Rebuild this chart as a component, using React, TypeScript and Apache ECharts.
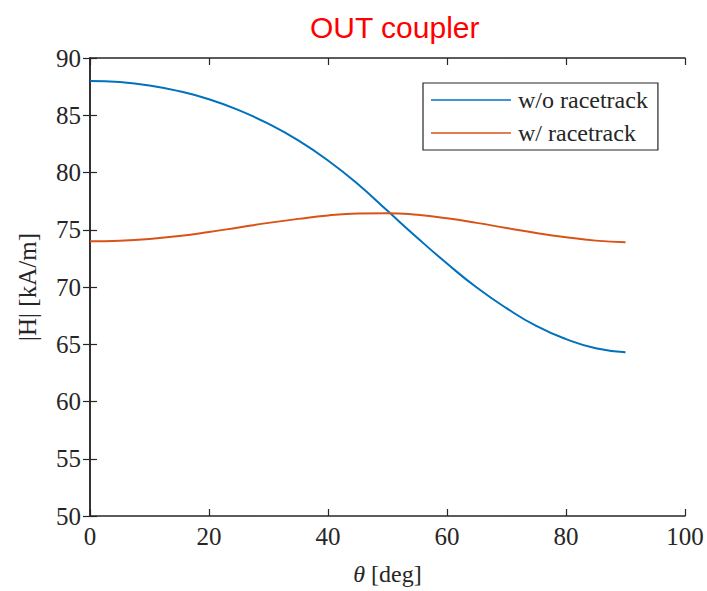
import React, { useEffect, useRef } from "react";
import * as echarts from "echarts";

const thetaDeg = [0, 5, 10, 15, 20, 25, 30, 35, 40, 45, 50, 55, 60, 65, 70, 75, 80, 85, 90];
const woRacetrack = [88.0, 87.9, 87.6, 87.1, 86.4, 85.45, 84.25, 82.8, 81.05, 79.0, 76.65, 74.3, 72.05, 69.95, 68.15, 66.6, 65.45, 64.65, 64.3];
const wRacetrack = [74.0, 74.05, 74.2, 74.45, 74.8, 75.2, 75.6, 75.95, 76.25, 76.42, 76.45, 76.3, 76.0, 75.6, 75.15, 74.72, 74.35, 74.05, 73.9];

const seriesNames = ["w/o racetrack", "w/ racetrack"];
const seriesColors = ["#0072BD", "#D95319"];

const serif = "Liberation Serif";
const axisColor = "#262626";

export default function App() {
  const ref = useRef<HTMLDivElement>(null);
  useEffect(() => {
    if (!ref.current) return;
    const chart = echarts.init(ref.current, null, { renderer: "svg" });
    const baseAxis = {
      axisLine: { show: true, lineStyle: { color: axisColor, width: 1.5 } },
      axisTick: { show: true, inside: true, length: 7, lineStyle: { color: axisColor, width: 1.2 } },
      splitLine: { show: false },
    };
    chart.setOption({
      animation: false,
      backgroundColor: "#ffffff",
      title: {
        text: "OUT coupler",
        left: 305,
        top: 7,
        textStyle: { color: "#ff0000", fontFamily: "Liberation Sans", fontSize: 30, fontWeight: "normal" },
      },
      grid: { left: 90, right: 22, top: 58, bottom: 74, containLabel: false },
      legend: {
        left: 423,
        top: 83,
        orient: "vertical",
        itemWidth: 80,
        itemHeight: 14,
        itemGap: 9,
        padding: [5, 10, 5, 8],
        borderColor: axisColor,
        borderWidth: 1.2,
        backgroundColor: "#ffffff",
        data: seriesNames.map((n) => ({ name: n, icon: "path://M0,7 L80,7 L80,8.6 L0,8.6 Z" })),
        textStyle: { fontFamily: serif, fontSize: 24, color: axisColor, padding: [0, 0, 0, 2] },
      },
      xAxis: [
        {
          ...baseAxis,
          type: "value",
          min: 0,
          max: 100,
          interval: 20,
          position: "bottom",
          axisLabel: { fontFamily: serif, fontSize: 25, color: axisColor, margin: 8 },
          name: "{i|θ} [deg]",
          nameLocation: "middle",
          nameGap: 46,
          nameTextStyle: {
            fontFamily: serif,
            fontSize: 24,
            color: axisColor,
            rich: { i: { fontFamily: serif, fontStyle: "italic", fontSize: 24, color: axisColor } },
          },
        },
        {
          ...baseAxis,
          type: "value",
          min: 0,
          max: 100,
          interval: 20,
          position: "top",
          axisLabel: { show: false },
        },
      ],
      yAxis: [
        {
          ...baseAxis,
          type: "value",
          min: 50,
          max: 90,
          interval: 5,
          position: "left",
          axisLabel: { fontFamily: serif, fontSize: 25, color: axisColor, margin: 9 },
          name: "|H| [kA/m]",
          nameLocation: "middle",
          nameGap: 50,
          nameTextStyle: { fontFamily: serif, fontSize: 25, color: axisColor },
        },
        {
          ...baseAxis,
          type: "value",
          min: 50,
          max: 90,
          interval: 5,
          position: "right",
          axisLabel: { show: false },
        },
      ],
      series: [woRacetrack, wRacetrack].map((vals, i) => ({
        name: seriesNames[i],
        type: "line",
        smooth: true,
        symbol: "none",
        data: thetaDeg.map((t, j) => [t, vals[j]]),
        lineStyle: { color: seriesColors[i], width: 2 },
        itemStyle: { color: seriesColors[i] },
      })),
    });
    return () => chart.dispose();
  }, []);
  return <div ref={ref} style={{ position: "fixed", left: 0, top: 0, width: 707, height: 591 }} />;
}
